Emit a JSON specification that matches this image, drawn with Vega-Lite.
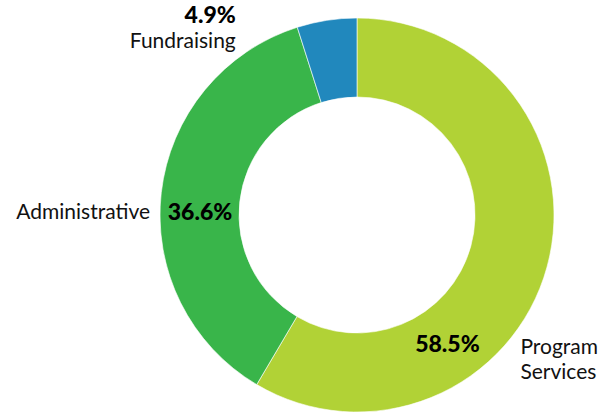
{
  "$schema": "https://vega.github.io/schema/vega-lite/v6.json",
  "autosize": "none",
  "width": 394,
  "height": 394,
  "padding": {"left": 160, "top": 18, "right": 61, "bottom": 0},
  "background": "white",
  "config": {"view": {"stroke": null}},
  "data": {
    "values": [
      {"category": "Program Services", "pct": 58.5, "order": 1, "label": "58.5%", "name": ["Program", "Services"]},
      {"category": "Administrative", "pct": 36.6, "order": 2, "label": "36.6%", "name": ["Administrative"]},
      {"category": "Fundraising", "pct": 4.9, "order": 3, "label": "4.9%", "name": ["Fundraising"]}
    ]
  },
  "encoding": {
    "theta": {"field": "pct", "type": "quantitative", "stack": true},
    "order": {"field": "order", "type": "ordinal"}
  },
  "layer": [
    {
      "mark": {"type": "arc", "innerRadius": 118, "outerRadius": 197, "stroke": "white", "strokeWidth": 0.6},
      "encoding": {
        "color": {
          "field": "category", "type": "nominal", "legend": null,
          "scale": {"domain": ["Program Services", "Administrative", "Fundraising"], "range": ["#b1d236", "#39b54a", "#2188bd"]}
        }
      }
    },
    {"mark": {"type": "text", "radius": 158, "dx": -62, "dy": 88, "font": "Lato", "fontWeight": 900, "fontSize": 23, "align": "center", "baseline": "middle", "color": "#000"},
     "encoding": {"text": {"condition": {"test": "datum.category === 'Program Services'", "field": "label"}, "value": ""}}},
    {"mark": {"type": "text", "radius": 158, "dx": 11, "dy": 80, "font": "Lato", "fontSize": 21, "align": "left", "baseline": "top", "lineHeight": 25, "color": "#111"},
     "encoding": {"text": {"condition": {"test": "datum.category === 'Program Services'", "field": "name"}, "value": ""}}},
    {"mark": {"type": "text", "radius": 158, "dx": 0, "dy": 16, "font": "Lato", "fontWeight": 900, "fontSize": 23, "align": "center", "baseline": "middle", "color": "#000"},
     "encoding": {"text": {"condition": {"test": "datum.category === 'Administrative'", "field": "label"}, "value": ""}}},
    {"mark": {"type": "text", "radius": 158, "dx": -50, "dy": 16, "font": "Lato", "fontSize": 21, "align": "right", "baseline": "middle", "color": "#111"},
     "encoding": {"text": {"condition": {"test": "datum.category === 'Administrative'", "field": "name"}, "value": ""}}},
    {"mark": {"type": "text", "radius": 197, "dx": -91, "dy": -4, "font": "Lato", "fontWeight": 900, "fontSize": 23, "align": "right", "baseline": "middle", "color": "#000"},
     "encoding": {"text": {"condition": {"test": "datum.category === 'Fundraising'", "field": "label"}, "value": ""}}},
    {"mark": {"type": "text", "radius": 197, "dx": -91, "dy": 22, "font": "Lato", "fontSize": 21, "align": "right", "baseline": "middle", "color": "#111"},
     "encoding": {"text": {"condition": {"test": "datum.category === 'Fundraising'", "field": "name"}, "value": ""}}}
  ]
}
